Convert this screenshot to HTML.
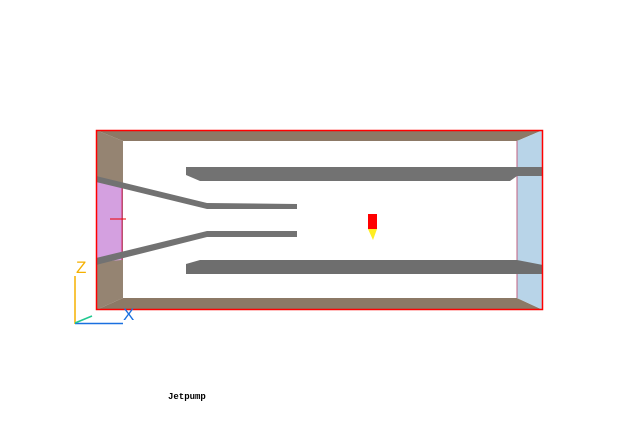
<!DOCTYPE html>
<html><head><style>body{margin:0;background:#fff;width:640px;height:441px;overflow:hidden}</style></head><body>
<svg width="640" height="441" xmlns="http://www.w3.org/2000/svg">
<polygon points="96,130 543,130 517,141 123,141" fill="#8c7966"/>
<polygon points="96,310 543,310 517,298 123,298" fill="#8c7966"/>
<polygon points="96,130 123,141 123,298 96,310" fill="#958472"/>
<polygon points="96,178 122,184 122,260 96,262" fill="#d4a0e0"/>
<line x1="122" y1="184" x2="122" y2="260" stroke="#e0206a" stroke-width="1"/>
<polygon points="517,141 543,130 543,310 517,298" fill="#b8d4e8"/>
<line x1="517" y1="141" x2="517" y2="298" stroke="#c06080" stroke-width="1"/>
<polygon points="186,167 543,167 543,176 517,176 510,181 200,181 186,175" fill="#727272"/>
<polygon points="186,264 200,260 517,260 543,265 543,274 186,274" fill="#6e6e6e"/>
<polygon points="96,176 207,203 297,204 297,209 207,209 96,182" fill="#727272"/>
<polygon points="96,258 207,231 297,231 297,237 207,237 96,265" fill="#727272"/>
<line x1="110" y1="219" x2="126" y2="219" stroke="#e00" stroke-width="1"/>
<rect x="96.5" y="130.5" width="446" height="179" fill="none" stroke="#f00" stroke-width="1.5"/>
<rect x="368" y="214" width="9" height="15" fill="#f00"/>
<polygon points="368,229 377,229 373,240" fill="#ffee22"/>
<line x1="75" y1="276" x2="75" y2="324" stroke="#f5b000" stroke-width="1.5"/>
<line x1="75" y1="323.5" x2="123" y2="323.5" stroke="#1a70e0" stroke-width="1.5"/>
<line x1="75" y1="323" x2="92" y2="316" stroke="#20c890" stroke-width="1.5"/>
<text x="76" y="273" font-family="Liberation Sans, sans-serif" font-size="17" fill="#f5b000">Z</text>
<text x="123" y="320" font-family="Liberation Sans, sans-serif" font-size="17" fill="#1a70e0">X</text>
<text x="168" y="399" font-family="Liberation Mono, monospace" font-size="9" font-weight="bold" fill="#000">Jetpump</text>
</svg>
</body></html>
